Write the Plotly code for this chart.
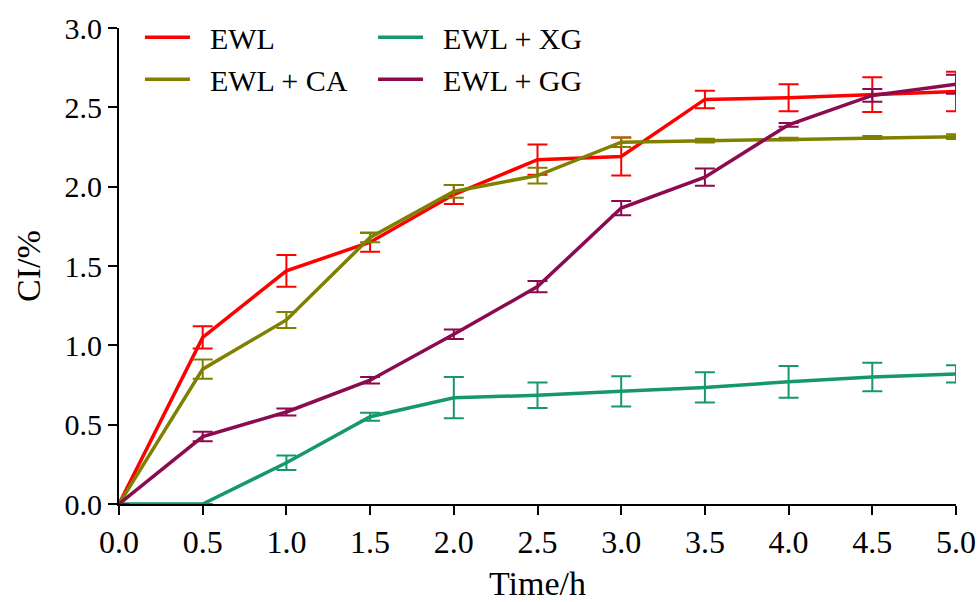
import plotly.graph_objects as go

time_h = [0, 0.5, 1.0, 1.5, 2.0, 2.5, 3.0, 3.5, 4.0, 4.5, 5.0]

ewl = [0, 1.05, 1.47, 1.65, 1.95, 2.17, 2.19, 2.55, 2.56, 2.58, 2.60]
ewl_err = [0, 0.07, 0.10, 0.06, 0.06, 0.095, 0.12, 0.055, 0.085, 0.11, 0.125]

ewl_ca = [0, 0.85, 1.16, 1.68, 1.97, 2.07, 2.28, 2.29, 2.30, 2.31, 2.315]
ewl_ca_err = [0, 0.06, 0.05, 0.03, 0.04, 0.05, 0.03, 0.012, 0.008, 0.01, 0.015]

ewl_xg = [0, 0, 0.26, 0.55, 0.67, 0.685, 0.71, 0.735, 0.77, 0.80, 0.82]
ewl_xg_err = [0, 0, 0.045, 0.025, 0.13, 0.08, 0.095, 0.095, 0.10, 0.09, 0.055]

ewl_gg = [0, 0.425, 0.58, 0.78, 1.07, 1.37, 1.865, 2.06, 2.39, 2.575, 2.645]
ewl_gg_err = [0, 0.03, 0.022, 0.02, 0.03, 0.035, 0.045, 0.055, 0.012, 0.04, 0.06]

y_ticks = [0, 0.5, 1.0, 1.5, 2.0, 2.5, 3.0]

series = [
    ("EWL", ewl, ewl_err, "#ff0000", "legend"),
    ("EWL + CA", ewl_ca, ewl_ca_err, "#808000", "legend"),
    ("EWL + XG", ewl_xg, ewl_xg_err, "#17986b", "legend2"),
    ("EWL + GG", ewl_gg, ewl_gg_err, "#8b0b4f", "legend2"),
]

FONT = "Liberation Serif, Times New Roman, serif"
PAD = "\u00a0\u00a0"

fig = go.Figure()
for name, ys, errs, color, leg in series:
    fig.add_trace(go.Scatter(
        x=time_h, y=ys, name=PAD + name, mode="lines",
        line=dict(color=color, width=3.5),
        error_y=dict(type="data", array=errs, visible=True,
                     color=color, thickness=2, width=10),
        legend=leg, cliponaxis=False,
    ))

legend_common = dict(xanchor="left", yanchor="top", bgcolor="rgba(0,0,0,0)",
                     font=dict(size=30, family=FONT), tracegroupgap=0, itemwidth=45)

fig.update_layout(
    width=977, height=602,
    margin=dict(l=119, r=21, t=28, b=98, autoexpand=False),
    paper_bgcolor="white", plot_bgcolor="white",
    font=dict(family=FONT, size=30, color="black"),
    legend=dict(x=0.025, y=1.035, **legend_common),
    legend2=dict(x=0.3035, y=1.035, **legend_common),
    showlegend=True,
)

fig.update_xaxes(
    range=[0, 5], tickmode="array", tickvals=time_h,
    ticktext=[f"{v:.1f}" for v in time_h],
    showline=True, linecolor="black", linewidth=2,
    ticks="outside", ticklen=9, tickwidth=2, tickcolor="black",
    showgrid=False, zeroline=False, automargin=False,
    tickfont=dict(size=32, family=FONT),
    title=dict(text="Time/h", font=dict(size=34, family=FONT), standoff=12),
)
fig.update_yaxes(
    range=[0, 3], tickmode="array", tickvals=y_ticks,
    ticktext=[f"{v:.1f}" for v in y_ticks],
    showline=True, linecolor="black", linewidth=2,
    ticks="outside", ticklen=9, tickwidth=2, tickcolor="black",
    showgrid=False, zeroline=False, automargin=False,
    tickfont=dict(size=30, family=FONT),
    title=dict(text="CI/%", font=dict(size=34, family=FONT), standoff=14),
)

fig.write_html("out.html")
